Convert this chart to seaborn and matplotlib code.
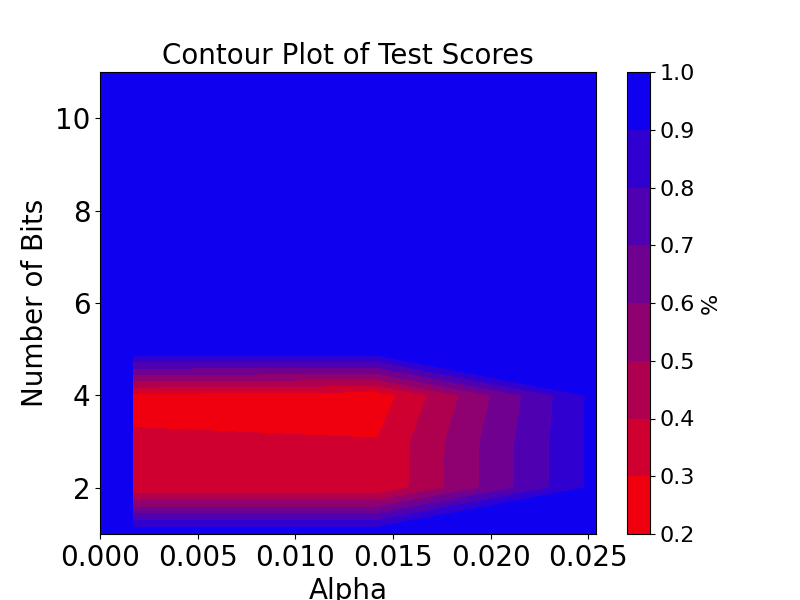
import numpy as np
import matplotlib
matplotlib.use("Agg")
import matplotlib.pyplot as plt
from matplotlib.colors import LinearSegmentedColormap
import seaborn as sns

sns.set_style("ticks", {"axes.edgecolor": "black", "xtick.color": "black",
                        "ytick.color": "black", "text.color": "black",
                        "axes.labelcolor": "black"})
plt.rcParams["font.family"] = ["DejaVu Sans"]
plt.rcParams["xtick.major.size"] = 3.5
plt.rcParams["ytick.major.size"] = 3.5

# grid of alpha values and bit counts
alphas = [0.0017, 0.0142, 0.025]
bits = [1, 2, 3, 4, 5, 6, 7, 8, 9, 10, 11]

# test scores, one list per alpha column (rows follow bits)
scores_a1 = [1.0, 0.31, 0.313, 0.27, 1.0, 1.0, 1.0, 1.0, 1.0, 1.0, 1.0]
scores_a2 = [1.0, 0.31, 0.305, 0.24, 1.0, 1.0, 1.0, 1.0, 1.0, 1.0, 1.0]
scores_a3 = [1.0, 0.91, 0.91, 0.91, 1.0, 1.0, 1.0, 1.0, 1.0, 1.0, 1.0]

x_ticks = [0.0, 0.005, 0.01, 0.015, 0.02, 0.025]
levels = np.linspace(0.2, 1.0, 9)

X, Y = np.meshgrid(alphas, bits)
Z = np.column_stack([scores_a1, scores_a2, scores_a3])

cmap = LinearSegmentedColormap.from_list("red_blue", ["red", "blue"])

fig, ax = plt.subplots(figsize=(8, 6), dpi=100)
ax.set_facecolor(cmap(15 / 16))
cs = ax.contourf(X, Y, Z, levels=levels, cmap=cmap)
cbar = fig.colorbar(cs, ax=ax)
cbar.set_label("%", fontsize=16)
cbar.ax.tick_params(labelsize=16)

ax.set_xlim(0, 0.0254)
ax.set_ylim(1, 11)
ax.set_xticks(x_ticks)
ax.set_xticklabels([f"{t:.3f}" for t in x_ticks])
ax.set_title("Contour Plot of Test Scores", fontsize=20)
ax.set_xlabel("Alpha", fontsize=20)
ax.set_ylabel("Number of Bits", fontsize=20)
ax.tick_params(labelsize=20)

plt.savefig("out.png")
